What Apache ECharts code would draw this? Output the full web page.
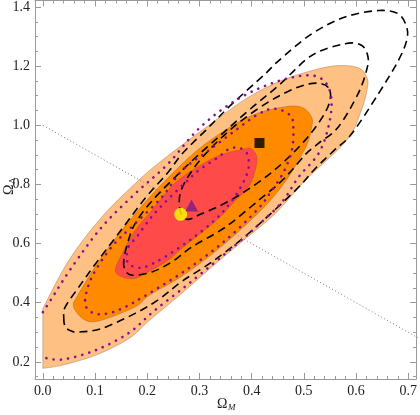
<!DOCTYPE html>
<html>
<head>
<meta charset="utf-8">
<script src="https://cdn.jsdelivr.net/npm/echarts@6/dist/echarts.min.js"></script>
<style>
  html, body { margin: 0; padding: 0; background: #fff; }
  #main { width: 420px; height: 415px; }
</style>
</head>
<body>
<div id="main"></div>
<script>
// tick positions / labels
const xTicks = [0, 0.1, 0.2, 0.3, 0.4, 0.5, 0.6, 0.7];
const yTicks = [0.2, 0.4, 0.6, 0.8, 1.0, 1.2, 1.4];

// filled confidence regions (Omega_M, Omega_Lambda)
const fill99 = [[0, 0.380], [0, 0.178], [0.038, 0.189], [0.102, 0.223], [0.165, 0.279], [0.204, 0.340],
  [0.267, 0.433], [0.331, 0.532], [0.388, 0.616], [0.445, 0.701], [0.503, 0.814], [0.582, 0.949],
  [0.610, 1.050], [0.622, 1.129], [0.620, 1.165], [0.604, 1.195], [0.566, 1.202], [0.522, 1.188],
  [0.458, 1.152], [0.394, 1.095], [0.331, 1.017], [0.228, 0.881], [0.177, 0.803], [0.113, 0.690],
  [0.050, 0.544]];
const fill95 = [[0.059, 0.386], [0.081, 0.341], [0.113, 0.341], [0.177, 0.386], [0.204, 0.425],
  [0.267, 0.490], [0.331, 0.574], [0.388, 0.662], [0.436, 0.746], [0.469, 0.821], [0.490, 0.882],
  [0.507, 0.939], [0.515, 0.993], [0.515, 1.027], [0.496, 1.061], [0.458, 1.061], [0.394, 1.028],
  [0.312, 0.938], [0.244, 0.830], [0.177, 0.701], [0.113, 0.555], [0.069, 0.431]];
const fill68 = [[0.139, 0.510], [0.152, 0.487], [0.177, 0.482], [0.204, 0.506], [0.240, 0.544],
  [0.267, 0.585], [0.331, 0.676], [0.369, 0.746], [0.394, 0.791], [0.407, 0.848], [0.410, 0.893],
  [0.400, 0.919], [0.388, 0.921], [0.331, 0.893], [0.267, 0.825], [0.240, 0.780], [0.209, 0.713],
  [0.177, 0.645], [0.152, 0.566]];

// dashed contours
const dash99 = [[0.040, 0.352], [0.043, 0.318], [0.055, 0.304], [0.069, 0.301], [0.113, 0.313],
  [0.177, 0.364], [0.223, 0.412], [0.267, 0.473], [0.324, 0.538], [0.394, 0.634], [0.484, 0.780],
  [0.522, 0.854], [0.558, 0.915], [0.592, 0.972], [0.643, 1.107], [0.681, 1.219], [0.697, 1.287],
  [0.697, 1.332], [0.681, 1.377], [0.643, 1.388], [0.579, 1.366], [0.515, 1.309], [0.452, 1.219],
  [0.426, 1.174], [0.363, 1.073], [0.312, 0.983], [0.267, 0.904], [0.240, 0.841], [0.196, 0.753],
  [0.145, 0.634], [0.101, 0.532], [0.069, 0.453], [0.043, 0.386]];
const dash95 = [[0.155, 0.544], [0.158, 0.510], [0.171, 0.493], [0.209, 0.504], [0.247, 0.538],
  [0.286, 0.589], [0.350, 0.656], [0.414, 0.747], [0.452, 0.803], [0.477, 0.848], [0.505, 0.905],
  [0.528, 0.939], [0.566, 0.994], [0.604, 1.107], [0.620, 1.185], [0.623, 1.230], [0.611, 1.270],
  [0.579, 1.276], [0.515, 1.236], [0.452, 1.135], [0.394, 1.050], [0.344, 0.972], [0.280, 0.870],
  [0.210, 0.746], [0.177, 0.668], [0.164, 0.611]];
const dash68 = [[0.547, 1.128], [0.510, 1.140], [0.446, 1.093], [0.370, 1.001], [0.304, 0.888],
  [0.266, 0.785], [0.263, 0.712], [0.276, 0.682], [0.302, 0.699], [0.366, 0.753], [0.442, 0.846],
  [0.507, 0.959], [0.546, 1.062]];

// dotted contours (outer one is cut at Omega_M = 0)
const dot99 = [[0, 0.368], [0.015, 0.409], [0.056, 0.521], [0.113, 0.656], [0.177, 0.769],
  [0.240, 0.870], [0.299, 0.989], [0.369, 1.084], [0.445, 1.146], [0.509, 1.169], [0.541, 1.146],
  [0.553, 1.084], [0.547, 0.994], [0.528, 0.904], [0.490, 0.825], [0.458, 0.740], [0.414, 0.665],
  [0.369, 0.595], [0.280, 0.465], [0.213, 0.372], [0.165, 0.298], [0.102, 0.240], [0.038, 0.208],
  [0, 0.215]];
const dot95 = [[0.081, 0.408], [0.088, 0.375], [0.108, 0.361], [0.145, 0.375], [0.204, 0.432],
  [0.280, 0.517], [0.350, 0.611], [0.410, 0.713], [0.436, 0.773], [0.461, 0.841], [0.477, 0.915],
  [0.480, 0.990], [0.474, 1.033], [0.445, 1.056], [0.414, 1.039], [0.369, 0.983], [0.318, 0.915],
  [0.267, 0.848], [0.228, 0.757], [0.177, 0.668], [0.132, 0.589], [0.094, 0.487]];
const dot68 = [[0.164, 0.589], [0.161, 0.555], [0.164, 0.532], [0.177, 0.521], [0.196, 0.521],
  [0.234, 0.555], [0.286, 0.617], [0.331, 0.682], [0.360, 0.740], [0.381, 0.797], [0.394, 0.854],
  [0.391, 0.905], [0.375, 0.924], [0.356, 0.919], [0.337, 0.893], [0.299, 0.848], [0.272, 0.804],
  [0.240, 0.750], [0.209, 0.692], [0.181, 0.625]];

// flat universe line and best-fit points
const flatLine = [[0, 1], [0.72, 0.28]];
const bestSquare = [[0.415, 0.940]];
const bestTriangle = [[0.285, 0.729]];
const bestCircle = [[0.264, 0.699]];

const X_MIN = -0.015, X_MAX = 0.715, Y_MIN = 0.142, Y_MAX = 1.422;
const FONT = '"Liberation Serif", "DejaVu Serif", serif';

const xMinor = [], yMinor = [];
for (let i = 0; i <= 35; i++) if (i % 5) xMinor.push(+(i * 0.02).toFixed(2));
for (let i = 3; i <= 28; i++) if (i % 4) yMinor.push(+(i * 0.05).toFixed(2));

// catmull-rom through the points; points on the Omega_M = 0 edge stay sharp
function smoothPath(pts, closed) {
  const n = pts.length;
  const at = i => closed ? pts[(i + n) % n] : pts[Math.max(0, Math.min(n - 1, i))];
  const f = v => v.toFixed(2);
  let d = 'M' + f(pts[0][0]) + ',' + f(pts[0][1]);
  const segs = closed ? n : n - 1;
  for (let i = 0; i < segs; i++) {
    const p1 = at(i), p2 = at(i + 1);
    if (p1.edge && p2.edge) { d += 'L' + f(p2[0]) + ',' + f(p2[1]); continue; }
    const p0 = p1.edge ? p1 : at(i - 1);
    const p3 = p2.edge ? p2 : at(i + 2);
    const k = 1 / 6;
    d += 'C' + f(p1[0] + (p2[0] - p0[0]) * k) + ',' + f(p1[1] + (p2[1] - p0[1]) * k) + ' ' +
      f(p2[0] - (p3[0] - p1[0]) * k) + ',' + f(p2[1] - (p3[1] - p1[1]) * k) + ' ' +
      f(p2[0]) + ',' + f(p2[1]);
  }
  if (closed) d += 'Z';
  return d;
}

function contour(points, closed, style, z) {
  return {
    type: 'custom', coordinateSystem: 'cartesian2d', clip: true, silent: true, z: z,
    data: [points[0]],
    renderItem: function (params, api) {
      const px = points.map(p => { const c = api.coord(p); c.edge = p[0] === 0; return c; });
      return { type: 'path', shape: { pathData: smoothPath(px, closed) }, style: style };
    }
  };
}

const edge = 'rgba(140,80,30,0.45)';
const dashStyle = { fill: null, stroke: '#000', lineWidth: 1.6, lineDash: [8, 5] };
const dotStyle = { fill: null, stroke: '#85108f', lineWidth: 2.6, lineDash: [0.1, 7.2], lineCap: 'round' };

function frameAxis(dim, pos, ticks, len, labels) {
  const a = {
    type: 'value', position: pos,
    min: dim === 'x' ? X_MIN : Y_MIN, max: dim === 'x' ? X_MAX : Y_MAX,
    axisLine: { show: len > 4, onZero: false, lineStyle: { color: '#9a9a9a', width: 1 } },
    axisTick: { inside: true, length: len, customValues: ticks, lineStyle: { color: '#9a9a9a', width: 1 } },
    axisLabel: { show: false },
    splitLine: { show: false }
  };
  if (labels) {
    a.axisLabel = {
      show: true, customValues: ticks, formatter: v => v.toFixed(1),
      fontFamily: FONT, fontSize: 14, color: '#222', margin: dim === 'x' ? 5 : 5
    };
  }
  return a;
}

const chart = echarts.init(document.getElementById('main'), null, { renderer: 'canvas' });
chart.setOption({
  animation: false,
  backgroundColor: '#fff',
  grid: { left: 35, right: 2, top: 0, bottom: 36, containLabel: false },
  xAxis: [
    frameAxis('x', 'bottom', xTicks, 6, true),
    frameAxis('x', 'bottom', xMinor, 3, false),
    frameAxis('x', 'top', xTicks, 6, false),
    frameAxis('x', 'top', xMinor, 3, false)
  ],
  yAxis: [
    frameAxis('y', 'left', yTicks, 6, true),
    frameAxis('y', 'left', yMinor, 3, false),
    frameAxis('y', 'right', yTicks, 6, false),
    frameAxis('y', 'right', yMinor, 3, false)
  ],
  graphic: [
    { type: 'text', x: 217, y: 404, style: { text: 'Ω', font: '14px ' + FONT, fill: '#222', verticalAlign: 'middle' } },
    { type: 'text', x: 228, y: 408, style: { text: 'M', font: 'italic 9px ' + FONT, fill: '#222', verticalAlign: 'middle' } },
    {
      type: 'group', x: 9, y: 195, rotation: Math.PI / 2,
      children: [
        { type: 'text', x: 0, y: 0, style: { text: 'Ω', font: '14px ' + FONT, fill: '#222', verticalAlign: 'middle' } },
        { type: 'text', x: 11, y: 4, style: { text: 'Λ', font: '9px ' + FONT, fill: '#222', verticalAlign: 'middle' } }
      ]
    }
  ],
  series: [
    contour(fill99, true, { fill: '#ffc084', stroke: edge, lineWidth: 0.8 }, 1),
    contour(fill95, true, { fill: '#ff8a00', stroke: edge, lineWidth: 0.8 }, 2),
    contour(fill68, true, { fill: '#ff4a4a', stroke: edge, lineWidth: 0.8 }, 3),
    contour(dash99, true, dashStyle, 4),
    contour(dash95, true, dashStyle, 4),
    contour(dash68, true, dashStyle, 4),
    contour(dot99, false, dotStyle, 5),
    contour(dot95, true, dotStyle, 5),
    contour(dot68, true, dotStyle, 5),
    {
      type: 'line', data: flatLine, symbol: 'none', silent: true, z: 6, clip: true,
      lineStyle: { color: '#777', width: 1, type: [1, 2.5] }
    },
    { type: 'scatter', data: bestSquare, symbol: 'rect', symbolSize: 10, itemStyle: { color: '#000' }, z: 7, silent: true },
    { type: 'scatter', data: bestTriangle, symbol: 'triangle', symbolSize: [13, 12], itemStyle: { color: '#7d1a88' }, z: 7, silent: true },
    { type: 'scatter', data: bestCircle, symbol: 'circle', symbolSize: 13, itemStyle: { color: '#ffff00' }, z: 8, silent: true }
  ]
});
</script>
</body>
</html>
